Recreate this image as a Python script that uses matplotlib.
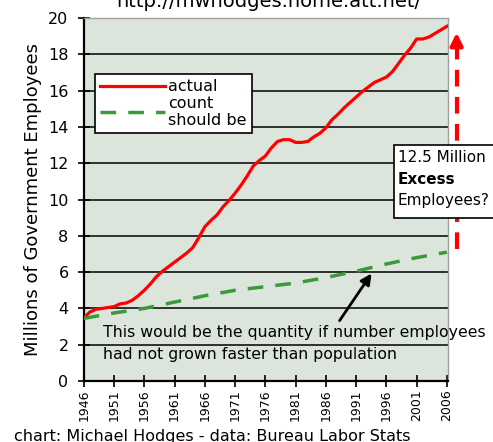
import matplotlib
matplotlib.use("Agg")
import matplotlib.pyplot as plt
from matplotlib.patches import Rectangle

plt.rcParams['font.family'] = ['DejaVu Sans']

# actual government employees (millions), 1946-2006
years = list(range(1946, 2007))
actual = [3.47, 3.8, 3.95, 4.0, 4.05, 4.1, 4.25, 4.3, 4.45, 4.7,
          5.0, 5.35, 5.75, 6.05, 6.3, 6.55, 6.8, 7.05, 7.35, 7.9,
          8.5, 8.85, 9.15, 9.6, 9.95, 10.35, 10.8, 11.3, 11.85, 12.15,
          12.4, 12.85, 13.2, 13.3, 13.3, 13.15, 13.15, 13.2, 13.45, 13.65,
          13.95, 14.4, 14.7, 15.05, 15.35, 15.65, 15.95, 16.2, 16.45, 16.6,
          16.75, 17.05, 17.5, 17.95, 18.35, 18.85, 18.85, 18.95, 19.15, 19.35,
          19.55]

# count if growth had matched population
pop_years = [1946, 1951, 1956, 1961, 1966, 1971, 1976, 1981, 1986, 1991, 1996, 2001, 2006]
should_be = [3.45, 3.75, 4.0, 4.35, 4.7, 5.0, 5.2, 5.4, 5.7, 6.05, 6.45, 6.8, 7.1]

xticks = list(range(1946, 2007, 5))
yticks = list(range(0, 21, 2))

fig = plt.figure(figsize=(4.93, 4.42), dpi=100)
ax = fig.add_axes([0.170, 0.138, 0.739, 0.821])
ax.set_facecolor('#dce5dc')

for y in yticks[1:-1]:
    ax.axhline(y, color='#222222', lw=1.3, zorder=1)

ax.plot(years, actual, color='#ff0000', lw=2.3, label='actual', zorder=3)
ax.plot(pop_years, should_be, color='#3a9a3a', lw=2.5, dashes=(4.5, 3.5),
        label='count\nshould be', zorder=3)

ax.set_xlim(1946, 2006.2)
ax.set_ylim(0, 20)
ax.set_xticks(xticks)
ax.set_xticklabels([str(x) for x in xticks], rotation=90, fontsize=9)
ax.set_yticks(yticks)
ax.set_yticklabels([str(y) for y in yticks], fontsize=11.5)
ax.tick_params(direction='inout', length=8, width=1.2, color='black', pad=2)
ax.tick_params(axis='y', pad=7)
ax.set_ylabel('Millions of Government Employees', fontsize=13, labelpad=4)

for s in ['left', 'bottom']:
    ax.spines[s].set_linewidth(1.6)
    ax.spines[s].set_color('black')
for s in ['top', 'right']:
    ax.spines[s].set_linewidth(1)
    ax.spines[s].set_color('#a0a0a0')

leg = ax.legend(loc='upper left', bbox_to_anchor=(0.03, 0.845), fontsize=11.5,
                frameon=True, fancybox=False, handlelength=4.1, borderpad=0.3,
                labelspacing=0.1, handletextpad=0.2, borderaxespad=0)
leg.get_frame().set_edgecolor('black')
leg.get_frame().set_linewidth(1.2)
leg.get_frame().set_facecolor('white')
leg.get_frame().set_alpha(1)

# red dashed arrow showing the gap
ax.plot([2007.6, 2007.6], [7.3, 18.4], color='red', lw=3, dashes=(4, 2.5),
        clip_on=False, zorder=4)
ax.annotate('', xy=(2007.6, 19.35), xytext=(2007.6, 18.2),
            arrowprops=dict(arrowstyle='-|>', color='red', lw=3, mutation_scale=18),
            annotation_clip=False)

# black arrow to the population line
ax.annotate('', xy=(1993.8, 6.05), xytext=(1988.0, 3.2),
            arrowprops=dict(arrowstyle='-|>', color='black', lw=2, mutation_scale=16))
ax.text(1949.1, 2.65, 'This would be the quantity if number employees',
        fontsize=11.3, va='center', ha='left', clip_on=False)
ax.text(1949.1, 1.45, 'had not grown faster than population',
        fontsize=11.3, va='center', ha='left', clip_on=False)

# excess box
fig.patches.append(Rectangle((0.799, 1 - 218 / 442), 0.25, 73 / 442,
                             transform=fig.transFigure, facecolor='white',
                             edgecolor='black', lw=1.2, zorder=5))
fig.text(0.807, 1 - 157 / 442, '12.5 Million', fontsize=11, va='center', zorder=6)
fig.text(0.807, 1 - 180 / 442, 'Excess', fontsize=11, fontweight='bold', va='center', zorder=6)
fig.text(0.807, 1 - 201 / 442, 'Employees?', fontsize=11, va='center', zorder=6)

fig.text(0.545, 1 - 7 / 442, 'http://mwhodges.home.att.net/', fontsize=14,
         ha='center', va='baseline')
fig.text(0.028, 1 - 436 / 442, 'chart: Michael Hodges - data: Bureau Labor Stats',
         fontsize=11.5, ha='left', va='center')

fig.savefig('out.png', dpi=100)
